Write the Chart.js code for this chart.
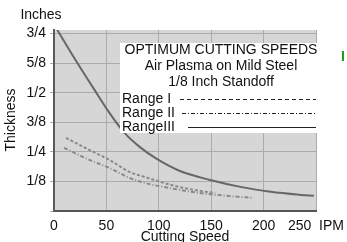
<!DOCTYPE html>
<html>
<head>
<meta charset="utf-8">
<script src="https://cdn.jsdelivr.net/npm/chart.js@4.4.1/dist/chart.umd.min.js"></script>
<style>
  html, body { margin: 0; padding: 0; background: #fff; }
  #wrap { width: 347px; height: 242px; position: relative; }
</style>
</head>
<body>
<div id="wrap"><canvas id="c"></canvas></div>
<script>
// cutting speed (IPM) vs plate thickness (inches)
const speedI = [11.5, 33.7, 52.9, 72.1, 86.5, 115.4, 139.4, 153.8];
const thickI = [0.309, 0.258, 0.216, 0.165, 0.144, 0.106, 0.085, 0.076];

const speedII = [9.6, 33.7, 52.9, 72.1, 86.5, 115.4, 139.4, 165, 190.4];
const thickII = [0.267, 0.216, 0.182, 0.140, 0.119, 0.093, 0.076, 0.064, 0.055];

const speedIII = [2.9, 19.2, 38.5, 52.9, 67.3, 81.7, 98.1, 120.2, 149, 177.9, 206.7, 235.6, 248];
const thickIII = [0.767, 0.648, 0.513, 0.415, 0.330, 0.271, 0.220, 0.169, 0.131, 0.102, 0.081, 0.068, 0.064];

const yTickLabels = { 0.125: '1/8', 0.25: '1/4', 0.375: '3/8', 0.5: '1/2', 0.625: '5/8', 0.75: '3/4' };
const xTickLabels = { 0: '0', 50: '50', 100: '100', 150: '150', 200: '200', 250: '250  IPM' };
const legendTitle = ['OPTIMUM CUTTING SPEEDS', 'Air Plasma on Mild Steel', '1/8 Inch Standoff'];
const legendNames = ['Range I', 'Range II', 'RangeIII'];

const FONT = '"Liberation Sans", Arial, sans-serif';
const pts = (xs, ys) => xs.map((x, i) => ({ x, y: ys[i] }));

const extras = {
  id: 'extras',
  beforeDraw(chart) {
    const { ctx, chartArea: a } = chart;
    ctx.save();
    ctx.fillStyle = '#d6d6d6';
    ctx.fillRect(a.left, a.top, a.right - a.left, a.bottom - a.top);
    ctx.restore();
  },
  afterDatasetsDraw(chart) {
    const { ctx } = chart;
    ctx.save();
    // legend box
    ctx.fillStyle = '#fff';
    ctx.fillRect(120, 43, 198, 90);
    ctx.fillStyle = '#111';
    ctx.font = '14px ' + FONT;
    ctx.textBaseline = 'middle';
    ctx.textAlign = 'center';
    legendTitle.forEach((t, i) => ctx.fillText(t, 221, 50 + i * 16));
    ctx.textAlign = 'left';
    const ys = [99, 113, 127];
    const dashes = [[4, 3], [4, 2, 1, 2], []];
    const starts = [180, 182, 188];
    legendNames.forEach((n, i) => {
      ctx.fillText(n, 122, ys[i]);
      ctx.beginPath();
      ctx.setLineDash(dashes[i]);
      ctx.strokeStyle = '#222';
      ctx.lineWidth = 1;
      ctx.moveTo(starts[i], ys[i] + 0.5);
      ctx.lineTo(316, ys[i] + 0.5);
      ctx.stroke();
    });
    ctx.setLineDash([]);
    ctx.restore();
  },
  afterDraw(chart) {
    const { ctx } = chart;
    ctx.save();
    ctx.fillStyle = '#111';
    ctx.font = '14px ' + FONT;
    ctx.textBaseline = 'middle';
    ctx.textAlign = 'center';
    ctx.fillText('Inches', 41, 15);
    ctx.fillText('Cutting Speed', 185, 237);
    ctx.save();
    ctx.translate(11, 120);
    ctx.rotate(-Math.PI / 2);
    ctx.fillText('Thickness', 0, 0);
    ctx.restore();
    ctx.fillStyle = '#1c9a1c';
    ctx.font = 'bold 14px ' + FONT;
    ctx.fillText('I', 343, 57);
    ctx.restore();
  },
};

new Chart(document.getElementById('c'), {
  type: 'line',
  data: {
    datasets: [
      { label: 'Range I', data: pts(speedI, thickI), borderColor: '#8a8a8a', borderWidth: 2, borderDash: [3, 2] },
      { label: 'Range II', data: pts(speedII, thickII), borderColor: '#8a8a8a', borderWidth: 2, borderDash: [4, 2, 1, 2] },
      { label: 'RangeIII', data: pts(speedIII, thickIII), borderColor: '#676767', borderWidth: 2 },
    ],
  },
  options: {
    responsive: true, maintainAspectRatio: false, animation: false,
    layout: { padding: { left: 0, right: 31, top: 30, bottom: 0 } },
    elements: { point: { radius: 0 }, line: { cubicInterpolationMode: 'monotone', fill: false } },
    plugins: { legend: { display: false }, tooltip: { enabled: false } },
    scales: {
      x: {
        type: 'linear', min: 0, max: 250,
        ticks: {
          stepSize: 50, color: '#111', font: { family: FONT, size: 14 }, padding: 7, maxRotation: 0,
          autoSkip: false, callback: (v) => xTickLabels[v],
        },
        grid: { color: '#ababab', drawTicks: false },
        border: { color: '#555', width: 2 },
        afterFit: (s) => { s.height = 31; s.paddingLeft = 0; s.paddingRight = 0; },
      },
      y: {
        type: 'linear', min: 0, max: 0.765,
        ticks: {
          stepSize: 0.125, includeBounds: false, color: '#111', font: { family: FONT, size: 14 }, padding: 4,
          callback: (v) => yTickLabels[v] || '',
        },
        grid: { color: '#ababab', tickLength: 4 },
        border: { color: '#5a5a5a', width: 2 },
        afterFit: (s) => { s.width = 54; s.paddingTop = 0; s.paddingBottom = 0; },
      },
    },
  },
  plugins: [extras],
});
</script>
</body>
</html>
